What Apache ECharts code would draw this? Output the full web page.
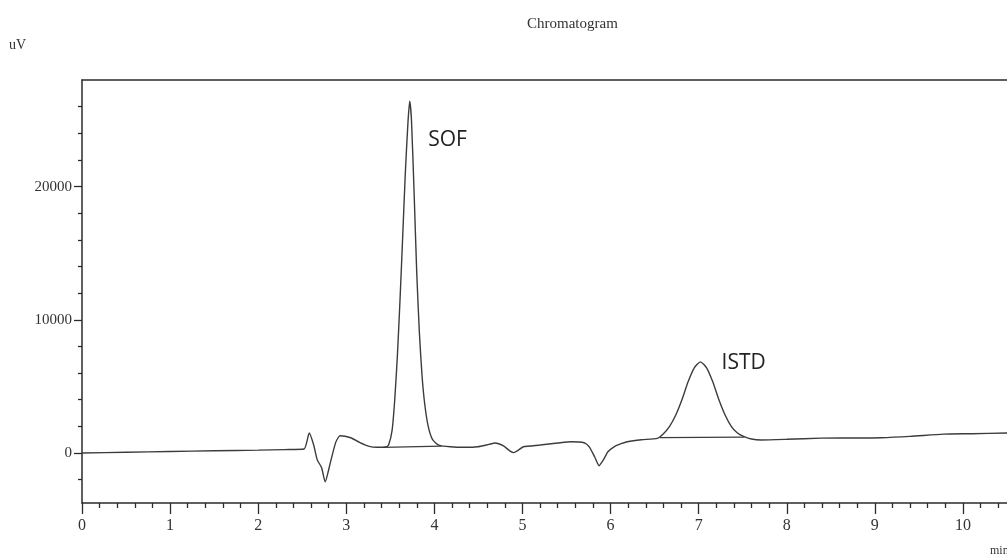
<!DOCTYPE html>
<html>
<head>
<meta charset="utf-8">
<script src="https://cdn.jsdelivr.net/npm/echarts@6/dist/echarts.min.js"></script>
<style>
  html, body { margin: 0; padding: 0; background: #fff; }
  #chart { width: 1007px; height: 555px; }
</style>
</head>
<body>
<div id="chart"></div>
<script>
// retention time (min) / detector signal (uV)
const timeMin = [
  0, 0.5, 1.0, 1.5, 2.0, 2.3, 2.52, 2.58, 2.63, 2.67, 2.72, 2.76, 2.82, 2.88, 2.93,
  3.05, 3.15, 3.25, 3.35, 3.45, 3.48, 3.52, 3.55, 3.58, 3.61, 3.64, 3.67, 3.70, 3.72,
  3.74, 3.77, 3.80, 3.83, 3.86, 3.89, 3.93, 3.98, 4.05, 4.18, 4.35, 4.49, 4.62, 4.69,
  4.78, 4.86, 4.90, 4.95, 5.01, 5.2, 5.4, 5.55, 5.70, 5.76, 5.82, 5.87, 5.92,
  5.97, 6.04, 6.12, 6.19, 6.35, 6.53, 6.60, 6.67, 6.74, 6.81, 6.88, 6.95,
  7.02, 7.09, 7.16, 7.23, 7.30, 7.37, 7.44, 7.51, 7.6, 7.71, 8.0, 8.39, 8.7, 9.07,
  9.4, 9.78, 10.1, 10.5
];
const signalUV = [
  0, 60, 120, 170, 220, 260, 300, 1500, 600, -500, -1100, -2150, -700, 800, 1300,
  1150, 800, 520, 430, 450, 600, 1700, 4000, 7300, 11500, 16200, 21000, 24800, 26400,
  25000, 19500, 13500, 9000, 5800, 3700, 2000, 1000, 600, 470, 430, 470, 650, 750,
  550, 150, 30, 200, 470, 600, 750, 850, 770, 450, -300, -950, -500,
  100, 470, 700, 850, 1000, 1100, 1450, 2000, 2850, 4000, 5350, 6400,
  6840, 6400, 5350, 4000, 2850, 2000, 1500, 1250, 1050, 980, 1030, 1120, 1130, 1150,
  1250, 1420, 1450, 1500
];

// integration baselines drawn under each peak
const sofBase = [[3.42, 430], [4.08, 520]];
const istdBase = [[6.56, 1150], [7.52, 1200]];

// peak names and where they are written
const peakNames = ['SOF', 'ISTD'];
const peakLabelAt = [[3.93, 23500], [7.26, 6750]];

// axis ticks
const timeTicks = [0, 1, 2, 3, 4, 5, 6, 7, 8, 9, 10];
const timeMinorTicks = [];
for (let t = 0; t <= 10.4; t += 0.2) {
  if (Math.abs(t - Math.round(t)) > 0.01) timeMinorTicks.push(+t.toFixed(1));
}
const uvTicks = [0, 10000, 20000];
const uvMinorTicks = [-2000, 2000, 4000, 6000, 8000, 12000, 14000, 16000, 18000, 22000, 24000, 26000];

const chart = echarts.init(document.getElementById('chart'));
const serif = 'Liberation Serif';
const ink = '#2b2b2b';

const trace = timeMin.map((t, i) => [t, signalUV[i]]);

const option = {
  animation: false,
  backgroundColor: '#fff',
  title: {
    text: 'Chromatogram',
    left: 522,
    top: 12,
    textStyle: { fontFamily: serif, fontSize: 15, fontWeight: 'normal', color: '#333' }
  },
  graphic: [
    { type: 'text', left: 9, top: 38, style: { text: 'uV', font: '14px "Liberation Serif"', fill: '#333' } },
    { type: 'text', left: 990, top: 545, style: { text: 'min', font: '12px "Liberation Serif"', fill: '#333' } }
  ],
  grid: { left: 82, right: 0, top: 80, bottom: 52 },
  xAxis: [
    {
      type: 'value', min: 0, max: 10.5, position: 'bottom',
      axisLine: { onZero: false, lineStyle: { color: ink, width: 1.5 } },
      axisTick: { customValues: timeTicks, length: 11, lineStyle: { color: ink, width: 1.3 } },
      axisLabel: { customValues: timeTicks, margin: 15, fontFamily: serif, fontSize: 16, color: '#333' },
      splitLine: { show: false }
    },
    {
      type: 'value', min: 0, max: 10.5, position: 'bottom',
      axisLine: { show: false, onZero: false },
      axisTick: { customValues: timeMinorTicks, length: 5, lineStyle: { color: ink, width: 1.3 } },
      axisLabel: { show: false },
      splitLine: { show: false }
    },
    {
      type: 'value', min: 0, max: 10.5, position: 'top',
      axisLine: { onZero: false, lineStyle: { color: ink, width: 1.5 } },
      axisTick: { show: false },
      axisLabel: { show: false },
      splitLine: { show: false }
    }
  ],
  yAxis: [
    {
      type: 'value', min: -3750, max: 28000, position: 'left',
      axisLine: { show: true, onZero: false, lineStyle: { color: ink, width: 1.5 } },
      axisTick: { show: true, customValues: uvTicks, length: 8, lineStyle: { color: ink, width: 1.3 } },
      axisLabel: {
        customValues: uvTicks, margin: 10, fontFamily: serif, fontSize: 15, color: '#333',
        formatter: v => String(v)
      },
      splitLine: { show: false }
    },
    {
      type: 'value', min: -3750, max: 28000, position: 'left',
      axisLine: { show: false, onZero: false },
      axisTick: { show: true, customValues: uvMinorTicks, length: 4, lineStyle: { color: ink, width: 1.3 } },
      axisLabel: { show: false },
      splitLine: { show: false }
    }
  ],
  series: [
    {
      type: 'line',
      data: trace,
      showSymbol: false,
      smooth: 0.2,
      lineStyle: { color: '#3c3c3c', width: 1.4 },
      markPoint: {
        symbol: 'circle',
        symbolSize: 0,
        label: {
          show: true,
          position: 'right',
          distance: 0,
          formatter: p => p.name,
          fontFamily: 'Open Sans',
          fontSize: 21,
          color: '#222'
        },
        data: peakNames.map((n, i) => ({ name: n, coord: peakLabelAt[i] }))
      }
    },
    {
      type: 'line', data: sofBase, showSymbol: false,
      lineStyle: { color: '#3c3c3c', width: 1.2 }
    },
    {
      type: 'line', data: istdBase, showSymbol: false,
      lineStyle: { color: '#3c3c3c', width: 1.2 }
    }
  ]
};

chart.setOption(option);
</script>
</body>
</html>
